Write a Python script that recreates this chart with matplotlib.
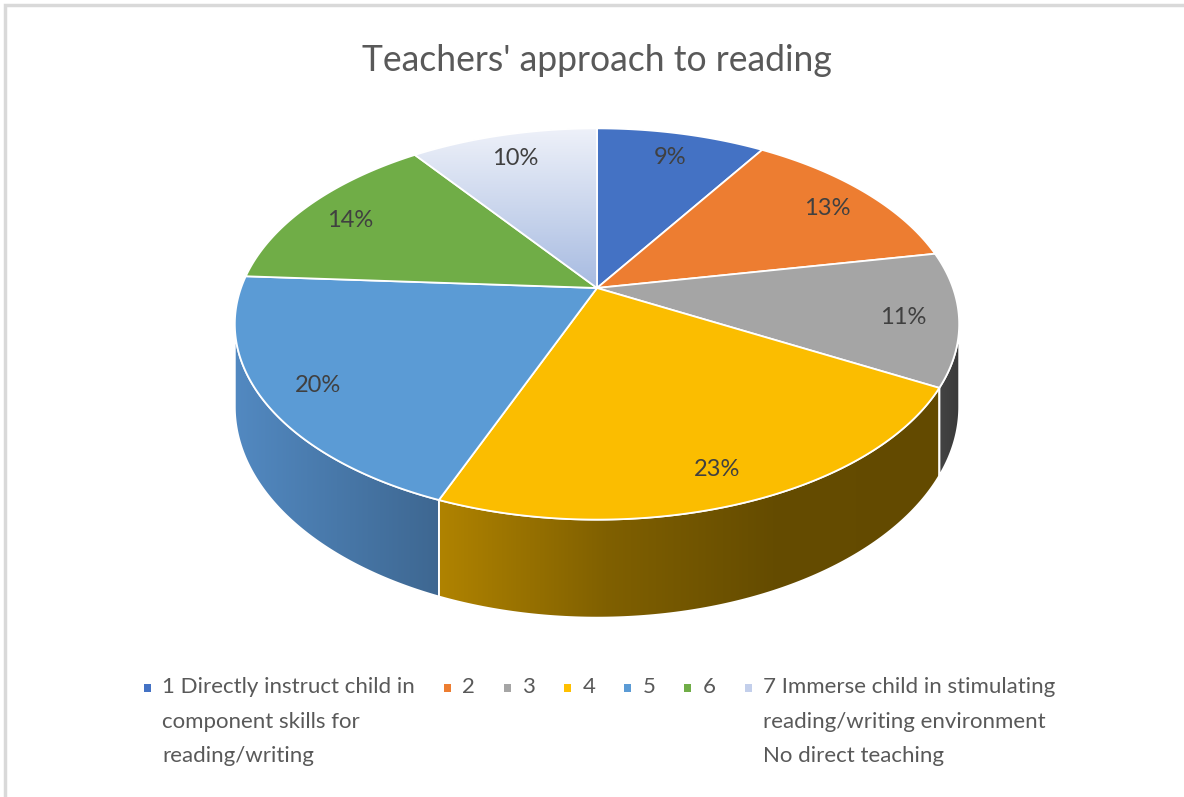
import numpy as np
import matplotlib.pyplot as plt
from matplotlib.colors import LinearSegmentedColormap
from matplotlib.patches import Polygon

plt.rcParams['font.family'] = ['Lato', 'DejaVu Sans']

title = "Teachers' approach to reading"
categories = [
    "1 Directly instruct child in\ncomponent skills for\nreading/writing",
    "2", "3", "4", "5", "6",
    "7 Immerse child in stimulating\nreading/writing environment\nNo direct teaching",
]
shares = [9, 13, 11, 23, 20, 14, 10]

# top face colours (None = vertical gradient for the last slice)
top_colors = ['#4472C4', '#ED7D31', '#A5A5A5', '#FBBD00', '#5B9BD5', '#70AD47', None]
top_gradient_7 = ['#eef1f9', '#a7bbe1']
legend_colors = ['#4472C4', '#ED7D31', '#A5A5A5', '#FFC000', '#5B9BD5', '#70AD47', '#c3cfeb']
wall_colors = [
    ['#36598f', '#2c4a78'],
    ['#a85a23', '#8c4a1c'],
    ['#444444', '#3a3a3a'],
    ['#b08300', '#806000', '#654c00', '#634a00'],
    ['#5289c1', '#3e6791'],
    ['#507d33', '#426a2a'],
    ['#8fa0c4', '#7a8cb4'],
]

W, H = 1184, 797
fig = plt.figure(figsize=(W / 100, H / 100), dpi=100)
ax = fig.add_axes([0, 0, 1, 1])

# pie geometry (in pixels)
CX, CY = 597, 288
RX, RY, DEPTH, PERSP = 356, 189, 80, 0.184


def project(theta, r=1.0, z=0.0):
    # theta runs clockwise from the far side of the pie, z=1 is the bottom rim
    s = 1 / (1 + PERSP * r * np.cos(theta))
    x = CX + RX * r * np.sin(theta) * s
    y = CY - (RY * r * np.cos(theta) - DEPTH * z) * s
    return x, y


def gradient_patch(xs, ys, cols, horizontal=True, z=2):
    poly = Polygon(np.column_stack([xs, ys]), closed=True, facecolor='none',
                   edgecolor='white', lw=1.3, joinstyle='round', zorder=z + 0.5)
    ax.add_patch(poly)
    cmap = LinearSegmentedColormap.from_list('g', cols)
    grad = np.linspace(0, 1, 256)
    grad = grad.reshape(1, -1) if horizontal else grad.reshape(-1, 1)
    im = ax.imshow(grad, cmap=cmap, extent=(xs.min(), xs.max(), ys.max(), ys.min()),
                   origin='upper', aspect='auto', interpolation='bilinear', zorder=z)
    im.set_clip_path(poly)


fractions = np.array(shares) / sum(shares)
bounds = np.concatenate([[0], np.cumsum(fractions)]) * 2 * np.pi
vis_lo, vis_hi = np.arccos(-PERSP), 2 * np.pi - np.arccos(-PERSP)

# side walls (front part only)
for i in range(len(shares)):
    a, b = max(bounds[i], vis_lo), min(bounds[i + 1], vis_hi)
    if a >= b:
        continue
    t = np.linspace(a, b, 120)
    xt, yt = project(t)
    xb, yb = project(t[::-1], z=1)
    xs = np.concatenate([xt, xb])
    ys = np.concatenate([yt, yb])
    gradient_patch(xs, ys, wall_colors[i], horizontal=True, z=2)

# top face
for i in range(len(shares)):
    t = np.linspace(bounds[i], bounds[i + 1], 200)
    xa, ya = project(t)
    xs = np.concatenate([[CX], xa])
    ys = np.concatenate([[CY], ya])
    if top_colors[i] is None:
        gradient_patch(xs, ys, top_gradient_7, horizontal=False, z=4)
    else:
        ax.add_patch(Polygon(np.column_stack([xs, ys]), closed=True,
                             facecolor=top_colors[i], edgecolor='white',
                             lw=1.3, joinstyle='round', zorder=4))

# data labels
for i, v in enumerate(shares):
    mid = (bounds[i] + bounds[i + 1]) / 2
    lx, ly = project(mid, r=0.85)
    ax.text(lx, ly + 4, f"{v}%", ha='center', va='center', fontsize=17,
            color='#404040', zorder=6)

ax.text(597, 60, title, ha='center', va='center', fontsize=25.6, color='#595959')

# legend: square marker + text, entries laid out left to right
fig.canvas.draw()
renderer = fig.canvas.get_renderer()
x = 147
y_top = 677
pitch = 34.5
for label, col in zip(categories, legend_colors):
    ax.add_patch(plt.Rectangle((x - 3.5, y_top + 7), 7, 8, facecolor=col,
                               edgecolor='none', zorder=5))
    width = 0
    for j, line in enumerate(label.split('\n')):
        t = ax.text(x + 15, y_top + j * pitch, line, ha='left', va='top',
                    fontsize=16, color='#595959')
        width = max(width, t.get_window_extent(renderer).width)
    x = x + 15 + width + 32.3

# chart border (only top and left edges are visible in the crop)
ax.plot([5, 5, W + 10], [H + 10, 5, 5], color='#d9d9d9', lw=2.5,
        solid_joinstyle='miter', zorder=1)

ax.set_xlim(0, W)
ax.set_ylim(H, 0)
ax.axis('off')

fig.savefig('out.png', dpi=100)
